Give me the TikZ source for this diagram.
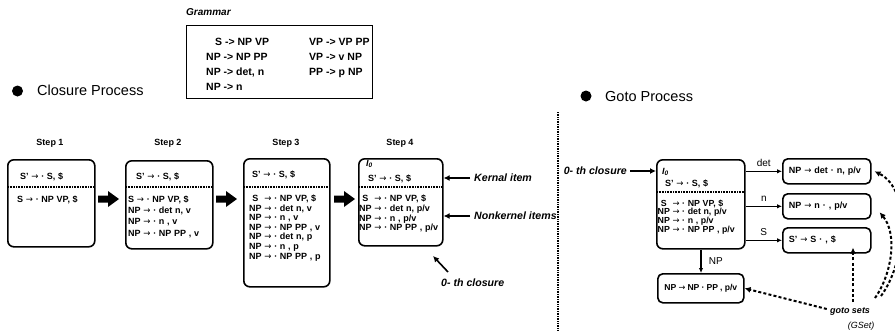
\documentclass[tikz,border=0pt]{standalone}
\usepackage{fontspec}
\setmainfont{Liberation Sans}
\newfontfamily\symfont{DejaVu Sans}
\usetikzlibrary{arrows.meta,calc}

% rewriting arrow used inside item sets
\newcommand\ar{{\symfont\mdseries\scalebox{0.95}[1]{→}}}
% subscripted item-set name
\newcommand\Izero{{\itshape I}\raisebox{-1.8pt}{\fontsize{6.5}{6.5}\selectfont\itshape 0}}
% item rows: left-hand side column, then arrow and right-hand side
\newcommand\rows[2]{\begin{tabular}[t]{@{}#1@{\hspace{0.3em}}l@{}}#2\end{tabular}}
% item text: size, line pitch and word gap
\newcommand\itemfont[3]{\fontsize{#1}{#2}\selectfont\bfseries\spaceskip=#3\relax}

\tikzset{
  stepbox/.style={draw,line width=1.6pt,rounded corners=6pt,inner sep=0pt,anchor=north west},
  gbox/.style={draw,line width=1.6pt,rounded corners=5pt,anchor=north west,
    minimum height=25pt,inner xsep=6pt,inner ysep=0pt,align=left,
    font={\itemfont{9}{10}{0.3em}}},
  sep/.style={line width=1.4pt,dash pattern=on 1pt off 0.6pt},
  items/.style={inner sep=0pt,anchor=base west,align=left,font={\itemfont{9}{#1}{0.3em}}},
  steplabel/.style={font=\fontsize{9}{10}\selectfont\bfseries},
  note/.style={font=\fontsize{10.6}{12}\selectfont\bfseries\itshape,inner sep=0pt},
  pointer/.style={line width=1.6pt,-{Latex[length=6pt,width=6pt]}},
  gotoarrow/.style={line width=1.1pt,-{Latex[length=5pt,width=4.5pt]}},
  gsetarrow/.style={line width=2pt,dash pattern=on 3pt off 2.2pt,-{Latex[length=6pt,width=6pt]}},
  fat/.style={fill=black,draw=none},
  bullet/.style={circle,fill=black,inner sep=0pt,minimum size=11pt},
  heading/.style={font=\fontsize{14.5}{16}\selectfont,inner sep=0pt,anchor=west},
  arrlabel/.style={font=\fontsize{10}{11}\selectfont},
  rule/.style={inner sep=0pt,anchor=base west,font=\fontsize{10.5}{15}\selectfont\bfseries},
}

\begin{document}
\begin{tikzpicture}[x=1pt,y=-1pt]
\useasboundingbox (0,0) rectangle (895,330);

% ---------------- grammar ----------------
\node[note,font=\fontsize{10}{11}\selectfont\bfseries\itshape,anchor=west] (gtitle) at (186,12) {Grammar};
\node[draw,line width=1.3pt,minimum width=186pt,minimum height=73pt,anchor=north west,inner sep=0pt] (gram) at (186,25) {};
\node[rule] (gl) at (206,45.8)
  {\begin{tabular}[t]{@{}l@{}}
   \hspace*{9pt}S -> NP VP\\NP -> NP PP\\NP -> det, n\\NP -> n
   \end{tabular}};
\node[rule] (gr) at (309,45.8)
  {\begin{tabular}[t]{@{}l@{}}
   VP -> VP PP\\VP -> v NP\\PP -> p NP
   \end{tabular}};

% ---------------- headings ----------------
\node[bullet] (b1) at (17.5,91) {};
\node[heading] (h1) at (37,90.5) {Closure Process};
\node[bullet] (b2) at (586,96) {};
\node[heading] (h2) at (605,96.5) {Goto Process};

% divider
\coordinate (dtop) at (558,112);
\coordinate (dbot) at (558,332);
\draw[line width=1.4pt,dash pattern=on 1pt off 0.7pt] (dtop) -- (dbot);

% ---------------- closure steps ----------------
\node[steplabel] (l1) at (50,143) {Step 1};
\node[steplabel] (l2) at (168,143) {Step 2};
\node[steplabel] (l3) at (286,143) {Step 3};
\node[steplabel] (l4) at (400,143) {Step 4};

\node[stepbox,minimum width=87pt,minimum height=87pt] (s1) at (7,159) {};
\node[stepbox,minimum width=87pt,minimum height=88pt] (s2) at (125,160) {};
\node[stepbox,minimum width=86pt,minimum height=128pt] (s3) at (243,158) {};
\node[stepbox,minimum width=84pt,minimum height=87pt] (s4) at (358,158) {};

\foreach \b in {s1,s2,s3,s4}
  \draw[sep] ([xshift=1pt]\b.west |- 0,187) -- ([xshift=-1pt]\b.east |- 0,187);

\node[items=9.5] (s1k) at (20,179.5) {S' \ar{} · S, \$};
\node[items=9.5] (s1n) at (17,202.5) {S \ar{} · NP VP, \$};

\node[items=9.5] (s2k) at (136,179.5) {S' \ar{} · S, \$};
\node[items=11.2] (s2n) at (128,202.5)
  {\begin{tabular}[t]{@{}l@{}}
   S \ar{} · NP VP, \$\\
   NP \ar{} · det n, v\\
   NP \ar{} · n , v\\
   NP \ar{} · NP PP , v
   \end{tabular}};

\node[items=9.5] (s3k) at (252,177) {S' \ar{} · S, \$};
\node[items=9.6] (s3n) at (249,201.5)
  {\rows{c}{S & \ar{} · NP VP, \$\\
            NP & \ar{} · det n, v\\
            NP & \ar{} · n , v\\
            NP & \ar{} · NP PP , v\\
            NP & \ar{} · det n, p\\
            NP & \ar{} · n , p\\
            NP & \ar{} · NP PP , p}};

\node[items=9.5] (s4i) at (366,166) {\Izero};
\node[items=9.5] (s4k) at (368,181.5) {S' \ar{} · S, \$};
\node[items=9.8] (s4n) at (359,201.5)
  {\rows{c}{S & \ar{} · NP VP, \$\\
            NP & \ar{} · det n, p/v\\
            NP & \ar{} · n , p/v\\
            NP & \ar{} · NP PP , p/v}};

% block arrows between the steps
\foreach \x in {98,216,334}
  \fill[fat] (\x,195.5) -- ++(10,0) -- ++(0,-4.5) -- ++(11,8) -- ++(-11,8) -- ++(0,-4.5) -- ++(-10,0) -- cycle;

% annotations on step 4
\coordinate (kA) at (470,178);
\coordinate (nA) at (470,216);
\draw[pointer] (kA) -- (s4.east |- kA);
\draw[pointer] (nA) -- (s4.east |- nA);
\node[note,anchor=west] (kern) at (474,178) {Kernal item};
\node[note,anchor=west] (nkern) at (474,216) {Nonkernel items};
\coordinate (cA) at (448,272);
\coordinate (cB) at (433,256);
\draw[pointer] (cA) -- (cB);
\node[note,anchor=west] (cl0) at (441,283) {0- th closure};

% ---------------- goto process ----------------
\node[stepbox,minimum width=88pt,minimum height=89pt] (g0) at (656,159) {};
\draw[sep] ([xshift=1pt]g0.west |- 0,192) -- ([xshift=-1pt]g0.east |- 0,192);
\node[items=9.5] (g0i) at (662,174) {\Izero};
\node[items=9.5] (g0k) at (665,186.5) {S' \ar{} · S, \$};
\node[items=8.3,font={\itemfont{8.8}{8.3}{0.3em}}] (g0n) at (657.5,206)
  {\rows{c}{S & \ar{} · NP VP, \$\\
            NP & \ar{} · det n, p/v\\
            NP & \ar{} · n , p/v\\
            NP & \ar{} · NP PP , p/v}};

\node[note,anchor=east] (g0lab) at (627,171) {0- th closure};
\draw[pointer] (g0lab.east) ++(3,0) coordinate (gA) -- (g0.west |- gA);

\node[gbox,text width=76pt] (gdet) at (782,158) {NP \ar{} det · n, p/v};
\node[gbox,text width=76pt] (gn) at (782,193) {NP \ar{} n · , p/v};
\node[gbox,text width=76pt] (gs) at (782,227) {S' \ar{} S · , \$};
\node[draw,line width=1.6pt,rounded corners=5pt,anchor=north west,inner sep=0pt,
      minimum width=86pt,minimum height=29pt,
      font={\itemfont{8.6}{10}{0.25em}}] (gnp) at (657,273) {NP \ar{} NP · PP , p/v};

\draw[gotoarrow] (g0.east |- gdet.west) -- node[above=1pt,arrlabel] (ldet) {det} (gdet.west);
\draw[gotoarrow] (g0.east |- gn.west) -- node[above=1pt,arrlabel] (ln) {n} (gn.west);
\draw[gotoarrow] (g0.east |- gs.west) -- node[above=1pt,arrlabel] (ls) {S} (gs.west);
\draw[gotoarrow] (g0.south -| 701,0) -- (gnp.north -| 701,0)
  node[pos=0.5,right=4pt,arrlabel] (lnp) {NP};

% goto sets pointers
\node[note,font=\fontsize{9}{10}\selectfont\bfseries\itshape] (gsets) at (850,311) {goto sets};
\node[note,font=\fontsize{9}{10}\selectfont\itshape] (gsetname) at (861,326) {(GSet)};
\draw[gsetarrow] (gsets.west) ++(-3,-2) -- (gnp.east);
\draw[gsetarrow] (853,302) -- ([yshift=6pt]gs.south -| 853,0);
\coordinate (c1) at (875,298);
\coordinate (c2) at (881,296);
\draw[gsetarrow] (c1) .. controls (893,272) and (897,233) .. ([xshift=8pt,yshift=-6pt]gn.east);
\draw[gsetarrow] (c2) .. controls (906,262) and (912,190) .. ([xshift=3pt]gdet.east);
\end{tikzpicture}
\end{document}
